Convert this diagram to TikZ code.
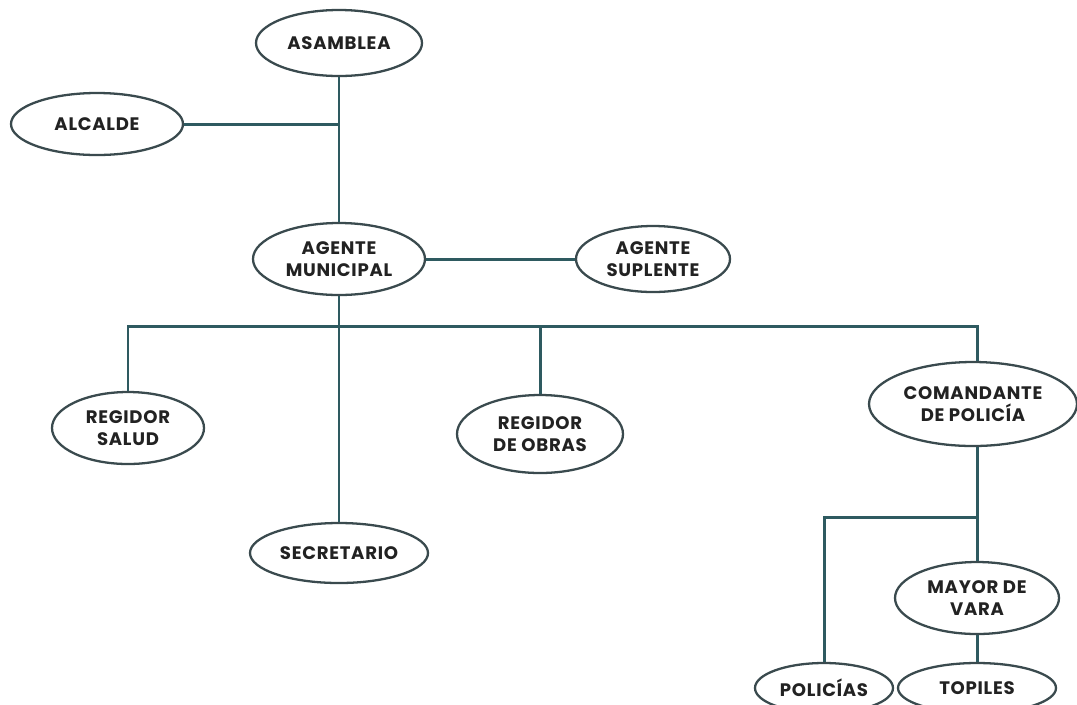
\documentclass[tikz,border=0pt]{standalone}
\usepackage{fontspec}
\setmainfont{Poppins}[LetterSpace=4]
\usetikzlibrary{shapes.geometric}
\definecolor{linecol}{HTML}{2E5A60}
\definecolor{edgecol}{HTML}{3A4A4E}
\definecolor{txtcol}{HTML}{222222}
\begin{document}
\begin{tikzpicture}[x=0.02cm,y=-0.02cm,
  el/.style 2 args={ellipse, draw=edgecol, line width=1.3pt, fill=white,
    inner sep=0pt, minimum width=#1*0.02cm, minimum height=#2*0.02cm,
    align=center, text=txtcol, font=\fontsize{10.3}{12.8}\selectfont\bfseries},
  conn/.style={draw=linecol, line width=1.7pt}]
\useasboundingbox (0,0) rectangle (1077,704);
\fill[white] (0,0) rectangle (1077,704);
\node[el={166}{66}] (asamblea) at (339,43) {ASAMBLEA};
\node[el={172}{62}] (alcalde) at (97,124) {ALCALDE};
\node[el={172}{72}] (agente) at (339,259) {AGENTE\\MUNICIPAL};
\node[el={154}{66}] (suplente) at (653,259) {AGENTE\\SUPLENTE};
\node[el={152}{72}] (salud) at (128,428) {REGIDOR\\SALUD};
\node[el={178}{60}] (secretario) at (339,553) {SECRETARIO};
\node[el={166}{78}] (obras) at (540,434) {REGIDOR\\DE OBRAS};
\node[el={208}{84}] (comandante) at (973,404) {COMANDANTE\\DE POLICÍA};
\node[el={164}{72}] (mayor) at (977,598) {MAYOR DE\\VARA};
\node[el={138}{50}] (policias) at (824,688) {POLICÍAS};
\node[el={158}{50}] (topiles) at (977,688) {TOPILES};
\coordinate (bL) at (128,326);
\coordinate (bR) at (977,326);
\coordinate (j2) at (977,517);
\draw[conn] (asamblea.south) -- (agente.north);
\draw[conn] (alcalde.east) -- (alcalde.east -| asamblea.south);
\draw[conn] (agente.east) -- (suplente.west);
\draw[conn] (agente.south) -- (secretario.north);
\draw[conn] (salud.north) -- (bL) -- (bR) -- (bR |- comandante.north);
\draw[conn] (obras.north) -- (obras.north |- bL);
\draw[conn] (mayor.north |- comandante.south) -- (mayor.north);
\draw[conn] (j2) -| (policias.north);
\draw[conn] (mayor.south) -- (topiles.north);
\end{tikzpicture}
\end{document}
